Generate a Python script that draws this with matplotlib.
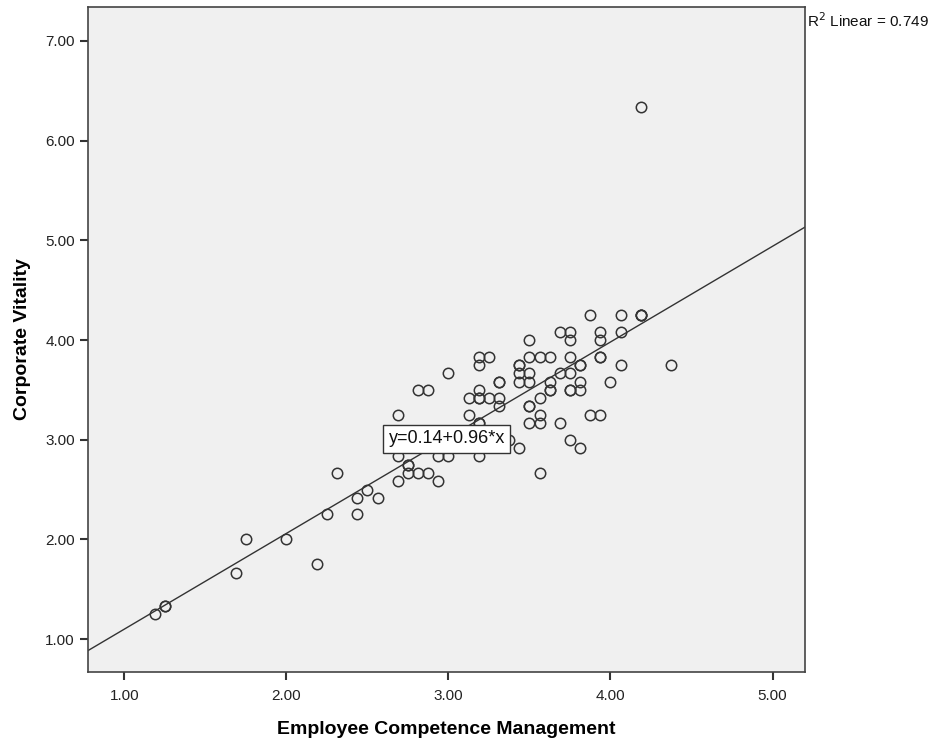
import matplotlib
matplotlib.use("Agg")
import matplotlib.pyplot as plt
import numpy as np

plt.rcParams["font.family"] = ["Liberation Sans", "DejaVu Sans"]

# Employee Competence Management (x) vs Corporate Vitality (y)
ecm = [1.1875, 1.25, 1.25, 1.6875, 1.75, 2.0, 2.1875, 2.25, 2.3125, 2.4375,
       2.4375, 2.5, 2.5625, 2.6875, 2.6875, 2.6875, 2.75, 2.75, 2.75, 2.8125,
       2.875, 2.8125, 2.875, 2.9375, 2.9375, 3.0, 3.0, 3.125, 3.1875, 3.1875,
       3.1875, 3.25, 3.3125, 3.3125, 3.3125, 3.3125, 3.1875, 3.25, 3.1875, 3.125,
       3.1875, 3.1875, 3.1875, 3.375, 3.4375, 3.5, 3.5, 3.5625, 3.625, 3.4375,
       3.4375, 3.4375, 3.4375, 3.5, 3.5, 3.625, 3.625, 3.625, 3.5625, 3.5,
       3.5, 3.5625, 3.5, 3.5625, 3.6875, 3.6875, 3.5625, 3.875, 4.0625, 4.1875,
       4.1875, 4.1875, 3.75, 3.75, 3.9375, 3.9375, 4.0625, 3.75, 3.9375, 3.9375,
       3.8125, 3.8125, 4.0625, 4.375, 3.6875, 3.75, 3.75, 3.75, 3.8125, 3.8125,
       4.0, 3.875, 3.9375, 3.75, 3.8125, 4.1875, 2.8125, 3.125, 3.25]
cv = [1.25, 1.3333, 1.3333, 1.6667, 2.0, 2.0, 1.75, 2.25, 2.6667, 2.4167,
      2.25, 2.5, 2.4167, 3.25, 2.8333, 2.5833, 2.75, 2.75, 2.6667, 3.5,
      3.5, 2.6667, 2.6667, 2.5833, 2.8333, 2.8333, 3.6667, 3.4167, 3.5, 3.4167,
      3.4167, 3.4167, 3.4167, 3.5833, 3.5833, 3.3333, 3.8333, 3.8333, 3.75, 3.25,
      3.1667, 3.1667, 2.8333, 3.0, 2.9167, 4.0, 3.8333, 3.8333, 3.8333, 3.75,
      3.75, 3.6667, 3.5833, 3.6667, 3.5833, 3.5833, 3.5, 3.5, 3.4167, 3.3333,
      3.3333, 3.25, 3.1667, 3.1667, 4.0833, 3.1667, 2.6667, 4.25, 4.25, 4.25,
      4.25, 4.25, 4.0833, 4.0, 4.0833, 4.0, 4.0833, 3.8333, 3.8333, 3.8333,
      3.75, 3.75, 3.75, 3.75, 3.6667, 3.6667, 3.5, 3.5, 3.5833, 3.5,
      3.5833, 3.25, 3.25, 3.0, 2.9167, 6.3333, 3.0, 3.0, 3.0833]

intercept = 0.14
slope = 0.96
r_squared = 0.749

xticks = [1.0, 2.0, 3.0, 4.0, 5.0]
yticks = [1.0, 2.0, 3.0, 4.0, 5.0, 6.0, 7.0]

fig = plt.figure(figsize=(9.36, 7.42), dpi=100)
ax = fig.add_axes([0.094, 0.0943, 0.766, 0.8963])
ax.set_facecolor("#f0f0f0")

x_lo, x_hi = 0.776, 5.2
y_lo, y_hi = 0.67, 7.34

# fit line
xl = np.array([x_lo, x_hi])
ax.plot(xl, intercept + slope * xl, color="#333333", lw=1.0, zorder=2)

ax.plot(ecm, cv, linestyle="none", marker="o", markersize=7.5,
        markerfacecolor="none", markeredgecolor="#333333", markeredgewidth=1.1,
        zorder=3)

ax.text(2.99, 3.01, f"y={intercept:.2f}+{slope:.2f}*x", ha="center",
        va="center", fontsize=13, color="#111111", zorder=5,
        bbox=dict(boxstyle="square,pad=0.3", facecolor="white",
                  edgecolor="#333333", linewidth=1.0))

ax.set_xlim(x_lo, x_hi)
ax.set_ylim(y_lo, y_hi)
ax.set_xticks(xticks)
ax.set_yticks(yticks)
ax.set_xticklabels([f"{t:.2f}" for t in xticks])
ax.set_yticklabels([f"{t:.2f}" for t in yticks])
ax.tick_params(direction="out", length=6, width=1.5, colors="#333333",
               labelsize=11, labelcolor="#222222")
ax.tick_params(axis="x", pad=6)
for s in ax.spines.values():
    s.set_color("#444444")
    s.set_linewidth(1.2)

ax.set_xlabel("Employee Competence Management", fontsize=14, fontweight="bold",
              labelpad=13)
ax.set_ylabel("Corporate Vitality", fontsize=14, fontweight="bold", labelpad=10)

fig.text(0.862, 0.972, f"R$^2$ Linear = {r_squared:.3f}", fontsize=11,
         ha="left", va="center", color="#111111")

fig.savefig("out.png", dpi=100)
